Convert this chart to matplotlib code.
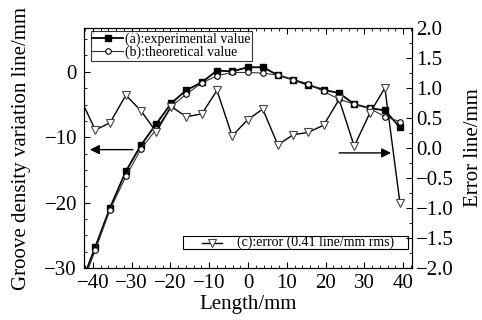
import matplotlib
matplotlib.use("Agg")
import matplotlib.pyplot as plt
from matplotlib.lines import Line2D
from matplotlib.patches import Rectangle
from matplotlib.ticker import MultipleLocator

plt.rcParams["font.family"] = ["Liberation Serif", "DejaVu Serif"]
plt.rcParams["mathtext.fontset"] = "stix"

# Sample positions along the grating (mm); first one falls outside the frame.
length = [-43.4, -39.4, -35.6, -31.5, -27.6, -23.7, -19.8, -15.9, -11.9, -8.0,
          -4.1, -0.1, 3.8, 7.7, 11.6, 15.5, 19.5, 23.5, 27.4, 31.4, 35.3, 39.2]

# (a) experimental, (b) theoretical groove density variation (line/mm)
experimental = [-33.0, -26.8, -20.8, -15.2, -11.2, -8.0, -4.8, -2.8, -1.6, 0.2,
                0.05, 0.7, 0.7, -0.5, -1.2, -2.0, -2.75, -3.25, -4.95, -5.55,
                -5.9, -8.5]
theoretical = [-33.5, -27.3, -21.1, -16.0, -11.8, -8.8, -5.3, -3.4, -1.7, -0.6,
               -0.1, -0.1, -0.2, -0.5, -1.2, -1.8, -3.0, -4.2, -4.95, -5.6,
               -6.85, -7.6]

# (c) error (line/mm), right axis
error = [0.85, 0.30, 0.42, 0.88, 0.62, 0.27, 0.69, 0.52, 0.57, 0.96, 0.20,
         0.47, 0.65, 0.05, 0.22, 0.26, 0.38, 0.81, 0.03, 0.58, 1.00, -0.92]

FS = 15

fig = plt.figure(figsize=(4.82, 3.2), dpi=100)
ax = fig.add_axes([0.1743, 0.1625, 0.6805, 0.75])
ax2 = ax.twinx()

la, = ax.plot(length, experimental, color="black", lw=1.3, marker="s", ms=4,
              mfc="black", mec="black", zorder=3)
lb, = ax.plot(length, theoretical, color="#333333", lw=0.8, marker="o", ms=4,
              mfc="white", mec="black", mew=0.8, zorder=4)
lc, = ax2.plot(length, error, color="black", lw=1.0, marker="v", ms=6,
               mfc="white", mec="#444444", mew=0.8)

ax.set_xlim(-42.3, 42.3)
ax.set_ylim(-30, 6.7)
ax2.set_ylim(-2.0, 2.0)

ax.xaxis.set_major_locator(MultipleLocator(10))
ax.xaxis.set_minor_locator(MultipleLocator(2))
ax.yaxis.set_major_locator(MultipleLocator(10))
ax.yaxis.set_minor_locator(MultipleLocator(2.5))
ax2.yaxis.set_major_locator(MultipleLocator(0.5))
ax2.yaxis.set_minor_locator(MultipleLocator(0.25))
ax2.yaxis.set_major_formatter(plt.FuncFormatter(
    lambda v, p: f"{v:.1f}".replace("-", "\u2212")))

ax.tick_params(axis="x", which="both", direction="in", top=True,
               labelsize=FS, pad=4)
ax.tick_params(axis="y", which="both", direction="in", right=False,
               labelsize=FS, pad=5)
ax.tick_params(which="major", length=4, width=0.8)
ax.tick_params(which="minor", length=2, width=0.6)
ax2.tick_params(which="both", direction="in", labelsize=FS, pad=3)
ax2.tick_params(which="major", length=4, width=0.8)
ax2.tick_params(which="minor", length=2, width=0.6)

ax.set_xlabel("Length/mm", fontsize=FS, labelpad=2)
ax.set_ylabel("Groove density variation line/mm", fontsize=FS, labelpad=10)
ax2.set_ylabel("Error line/mm", fontsize=FS, labelpad=7)

leg1 = ax.legend([la, lb], ["(a):experimental value", "(b):theoretical value"],
                 loc="upper left", bbox_to_anchor=(0.021, 0.9875),
                 fontsize=10, frameon=True, fancybox=False,
                 edgecolor="black", handlelength=2.2, handletextpad=0.15,
                 borderpad=0.1, labelspacing=0.0, borderaxespad=0.0)
leg1.get_frame().set_linewidth(0.8)

# Second legend box drawn by hand, to keep its wide left margin
ax.add_patch(Rectangle((0.302, 0.079), 0.686, 0.054, transform=ax.transAxes,
                       fill=True, facecolor="white", edgecolor="black",
                       lw=0.8, zorder=5))
ax.add_line(Line2D([0.360, 0.421], [0.106, 0.106], transform=ax.transAxes,
                   color="black", lw=1.0, zorder=6))
ax.add_line(Line2D([0.3905], [0.106], transform=ax.transAxes, marker="v",
                   ms=6, mfc="white", mec="#444444", mew=0.8, zorder=7))
ax.text(0.466, 0.106, "(c):error (0.41 line/mm rms)", transform=ax.transAxes,
        fontsize=10, va="center", ha="left", zorder=7)

# Arrows pointing to the axis each curve belongs to
ax.annotate("", xy=(-41.5, -11.9), xytext=(-29.0, -11.9),
            arrowprops=dict(arrowstyle="-|>", color="black", lw=1.0,
                            mutation_scale=14))
ax.annotate("", xy=(37.6, -12.4), xytext=(22.8, -12.4),
            arrowprops=dict(arrowstyle="-|>", color="black", lw=1.0,
                            mutation_scale=14))

fig.savefig("out.png", dpi=100)
